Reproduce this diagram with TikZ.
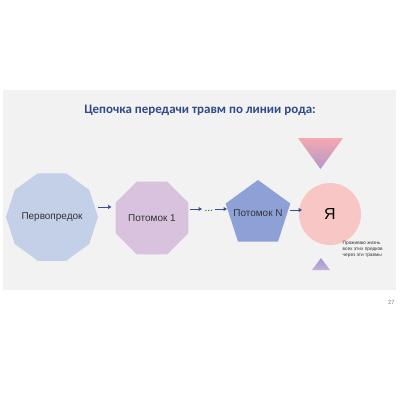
\documentclass[tikz,border=0pt]{standalone}
\usepackage{fontspec}
\setmainfont{Liberation Sans}
\newfontfamily\titlefont{Carlito}
\usetikzlibrary{shapes.geometric,arrows.meta}
\definecolor{panel}{HTML}{F2F2F2}
\definecolor{titleblue}{HTML}{2F4A88}
\definecolor{decfill}{HTML}{C4CFE8}
\definecolor{octfill}{HTML}{D8C2DD}
\definecolor{pentfill}{HTML}{8EA1D7}
\definecolor{circfill}{HTML}{F9C6C6}
\definecolor{arrblue}{HTML}{3A508E}
\definecolor{txtgray}{HTML}{333333}
\definecolor{tripink}{HTML}{F5A8B0}
\definecolor{tripurple}{HTML}{B298C9}
\definecolor{trilav}{HTML}{A894CF}
\definecolor{trilav2}{HTML}{C2B0DB}
\tikzset{
  shapebox/.style={inner sep=0pt, outer sep=0pt, draw=none, text=txtgray, font=\fontsize{10}{12}\selectfont},
  arr/.style={draw=arrblue, line width=1pt, -{Triangle[length=3.4pt,width=3.8pt]}},
}
\begin{document}
\begin{tikzpicture}[x=1bp,y=-1bp]
\useasboundingbox (0,0) rectangle (400,400);
\fill[white] (0,0) rectangle (400,400);
\fill[panel] (3,90) rectangle (396,290);
\node[font=\titlefont\bfseries\fontsize{13}{15}\selectfont, text=titleblue] (title) at (200,110) {Цепочка передачи травм по линии рода:};
\node[shapebox, regular polygon, regular polygon sides=10, minimum size=92bp, fill=decfill] (dec) at (52,217) {Первопредок};
\node[shapebox, regular polygon, regular polygon sides=8, minimum size=79bp, fill=octfill] (oct) at (152,218) {Потомок 1};
\node[shapebox, regular polygon, regular polygon sides=5, minimum size=68bp, fill=pentfill] (pent) at (258,214) {};
\node[text=txtgray, font=\fontsize{10}{12}\selectfont] (pentlbl) at (258,213) {Потомок N};
\node[shapebox, circle, minimum size=62bp, fill=circfill, font=\fontsize{16}{18}\selectfont, text=black] (me) at (330,214) {Я};
\node[inner sep=0pt, text=txtgray, font=\fontsize{10}{12}\selectfont] (dots) at (208.7,210.5) {...};
\coordinate (a1s) at (98,207); \coordinate (a1e) at (111.5,207);
\coordinate (a2s) at (190,209); \coordinate (a2e) at (202,209);
\coordinate (a3s) at (215,209); \coordinate (a3e) at (227,209);
\coordinate (a4s) at (290,210); \coordinate (a4e) at (302,210);
\draw[arr] (a1s) -- (a1e);
\draw[arr] (a2s) -- (a2e);
\draw[arr] (a3s) -- (a3e);
\draw[arr] (a4s) -- (a4e);
\shade[top color=tripink, bottom color=tripurple] (298,138) -- (343,138) -- (320.5,169) -- cycle;
\shade[top color=trilav, bottom color=trilav2] (321,258) -- (330,270) -- (312,270) -- cycle;
\node[anchor=north west, align=left, inner sep=0pt, text=txtgray, font=\fontsize{4.8}{5.8}\selectfont] (note) at (342.5,241.5) {Проживаю жизнь\\всех этих предков\\через эти травмы};
\node[text=gray, font=\fontsize{6}{7}\selectfont] (pagenum) at (391.5,302) {27};
\end{tikzpicture}
\end{document}
